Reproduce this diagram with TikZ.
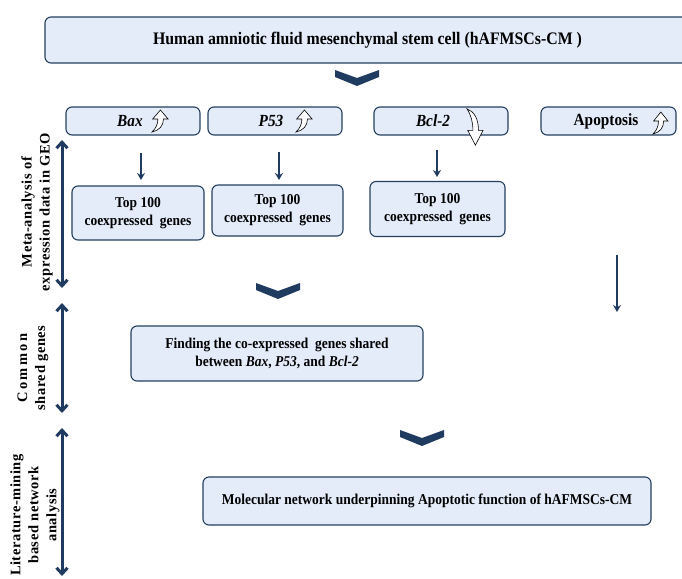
\documentclass[tikz,border=0pt]{standalone}
\usepackage{fontspec}
\setmainfont{Liberation Serif}
\newfontfamily\narrow[FakeStretch=0.9]{Liberation Serif}
\newfontfamily\spaced[LetterSpace=4]{Liberation Serif}
\newfontfamily\wide[LetterSpace=16]{Liberation Serif}
\usetikzlibrary{arrows.meta,calc}
\definecolor{navy}{HTML}{1F3B60}
\definecolor{boxfill}{HTML}{E4ECFA}
\definecolor{boxline}{HTML}{243F5E}
\tikzset{
  box/.style={draw=boxline, fill=boxfill, line width=1.1pt, rounded corners=6pt, inner sep=0pt, align=center, text=black},
  bigtxt/.style={font=\narrow\bfseries\fontsize{17.6}{20}\selectfont},
  midtxt/.style={font=\narrow\bfseries\fontsize{17}{20}\selectfont},
  smalltxt/.style={font=\narrow\bfseries\fontsize{15}{18}\selectfont},
  sidetxt/.style={font=\spaced\bfseries\fontsize{14.5}{18}\selectfont, rotate=90, align=center, inner sep=0pt},
  darr/.style={draw=navy, line width=1.8pt, -{Stealth[length=7pt,width=8pt]}},
  dbl/.style={draw=navy, line width=3pt, {Straight Barb[length=6pt,width=11pt,line width=3pt]}-{Straight Barb[length=6pt,width=11pt,line width=3pt]}},
  chev/.style={fill=navy, draw=none},
  upicon/.pic={\draw[fill=white,line width=0.6pt] (1,-11) -- (6.5,-2) -- (3.2,-2) .. controls (3.2,5) and (0,9.5) .. (-5,11) .. controls (-2,7) and (-0.8,3) .. (-0.8,-2) -- (-4.5,-2) -- cycle;}
}
\begin{document}
\begin{tikzpicture}[x=1pt,y=-1pt]
\useasboundingbox (0,0) rectangle (682,578);

% top box
\node[box, bigtxt, minimum width=645pt, minimum height=46pt] (top) at (367.5,40) {Human amniotic fluid mesenchymal stem cell (hAFMSCs-CM )};

% chevrons
\fill[chev] (335,70) -- (357,78) -- (379,70) -- (379,77) -- (357,86) -- (335,77) -- cycle;
\fill[chev] (256,283) -- (278,291) -- (300,283) -- (300,290) -- (278,299) -- (256,290) -- cycle;
\fill[chev] (400,430) -- (422,438) -- (444,430) -- (444,437) -- (422,446) -- (400,437) -- cycle;

% gene boxes
\node[box, midtxt, minimum width=134pt, minimum height=28pt] (bax) at (133,121) {\itshape Bax\hspace{6pt}};
\node[box, midtxt, minimum width=134pt, minimum height=28pt] (p53) at (275,121) {\itshape P53\hspace{8pt}};
\node[box, midtxt, minimum width=134pt, minimum height=28pt] (bcl) at (441,121) {\itshape Bcl-2\hspace{16pt}};
\node[box, midtxt, minimum width=135pt, minimum height=28pt] (apo) at (608.5,121) {Apoptosis\hspace{5pt}};

\pic[xscale=1.4] at ($(bax.center)+(26,0)$) {upicon};
\pic[xscale=1.4] at ($(p53.center)+(28,0)$) {upicon};
\pic[xscale=1.3] at ($(apo.center)+(51,2)$) {upicon};
\pic[yscale=-1.65,xscale=1.4] at ($(bcl.center)+(33,6)$) {upicon};

% top 100 boxes
\node[box, smalltxt, minimum width=132pt, minimum height=54pt] (t1) at (138,213) {Top 100\\coexpressed\ \ genes};
\node[box, smalltxt, minimum width=131pt, minimum height=51pt] (t2) at (277.5,210.5) {Top 100\\coexpressed\ \ genes};
\node[box, smalltxt, minimum width=135pt, minimum height=55pt] (t3) at (437.5,209) {Top 100\\coexpressed\ \ genes};

% finding box
\node[box, smalltxt, minimum width=292pt, minimum height=55pt] (find) at (277,353.5) {Finding the co-expressed\ \ genes shared\\between \textit{Bax}, \textit{P53}, and \textit{Bcl-2}};

% molecular box
\node[box, smalltxt, minimum width=448pt, minimum height=48pt] (mol) at (427,501) {Molecular network underpinning Apoptotic function of hAFMSCs-CM};

% down arrows
\coordinate (a1s) at (141,153); \coordinate (a1e) at (141,180);
\coordinate (a2s) at (279,152); \coordinate (a2e) at (279,180);
\coordinate (a3s) at (437,150); \coordinate (a3e) at (437,177);
\coordinate (a4s) at (617,255); \coordinate (a4e) at (617,312);
\draw[darr] (a1s) -- (a1e);
\draw[darr] (a2s) -- (a2e);
\draw[darr] (a3s) -- (a3e);
\draw[darr] (a4s) -- (a4e);

% side double arrows
\coordinate (s1a) at (62,140); \coordinate (s1b) at (62,288);
\coordinate (s2a) at (62,303); \coordinate (s2b) at (62,413);
\coordinate (s3a) at (62,428); \coordinate (s3b) at (62,576);
\draw[dbl] (s1a) -- (s1b);
\draw[dbl] (s2a) -- (s2b);
\draw[dbl] (s3a) -- (s3b);

% side labels
\node[sidetxt] (lab1) at (37,212) {Meta-analysis of\\expression data in GEO};
\node[sidetxt] (lab2) at (33,368) {{\wide Common}\\shared genes};
\node[sidetxt] (lab3) at (35,515) {Literature-mining\\based network\\analysis};
\end{tikzpicture}
\end{document}
